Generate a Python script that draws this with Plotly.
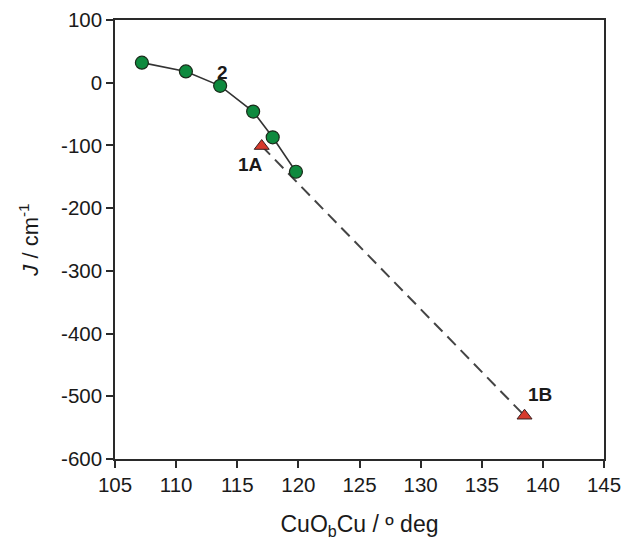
import plotly.graph_objects as go

# Series "2": green circles joined by a solid line
angle_2 = [107.2, 110.8, 113.6, 116.3, 117.9, 119.8]
J_2 = [32, 18, -5, -46, -87, -142]

# Series "1A/1B": red triangles joined by a dashed line
angle_1 = [117.0, 138.5]
J_1 = [-101, -531]

# Point labels
label_text = ["2", "1A", "1B"]
label_x = [113.8, 116.1, 139.8]
label_y = [17, -131, -497]

x_ticks = [105, 110, 115, 120, 125, 130, 135, 140, 145]
y_ticks = [100, 0, -100, -200, -300, -400, -500, -600]

FONT = "Liberation Sans, Arial, sans-serif"

fig = go.Figure()
fig.add_trace(go.Scatter(
    x=angle_1, y=J_1, mode="lines+markers",
    line=dict(color="#444444", width=2, dash="12px,7px"),
    marker=dict(symbol="triangle-up", size=13, color="#d63a2c",
                line=dict(color="#3a2020", width=1)),
    showlegend=False,
))
fig.add_trace(go.Scatter(
    x=angle_2, y=J_2, mode="lines+markers",
    line=dict(color="#333333", width=1.6),
    marker=dict(symbol="circle", size=13, color="#0e8a3e",
                line=dict(color="#1a2a1a", width=1.2)),
    showlegend=False,
))

for t, x, y in zip(label_text, label_x, label_y):
    fig.add_annotation(x=x, y=y, text=f"<b>{t}</b>", showarrow=False,
                       font=dict(family=FONT, size=19, color="#1a1a1a"))

axis_common = dict(
    showline=True, linecolor="#2a2a2a", linewidth=1.5, mirror=True,
    ticks="outside", ticklen=7, tickwidth=1.5, tickcolor="#2a2a2a",
    showgrid=False, zeroline=False, automargin=False,
    tickfont=dict(family=FONT, size=20.5, color="#1a1a1a"),
)

fig.update_xaxes(
    range=[105, 145], tickvals=x_ticks, ticktext=[str(v) for v in x_ticks],
    title=dict(text="CuO<sub>b</sub>Cu / º deg", standoff=30,
               font=dict(family=FONT, size=23, color="#1a1a1a")),
    **axis_common,
)
fig.update_yaxes(
    range=[-600, 100], tickvals=y_ticks, ticktext=[str(v) for v in y_ticks],
    title=dict(text="<i>J</i> / cm<sup>-1</sup>", standoff=16,
               font=dict(family=FONT, size=22, color="#1a1a1a")),
    **axis_common,
)

fig.update_layout(
    width=624, height=540,
    margin=dict(l=115, r=20, t=20, b=81),
    paper_bgcolor="white", plot_bgcolor="white",
)

fig.write_html("out.html")
